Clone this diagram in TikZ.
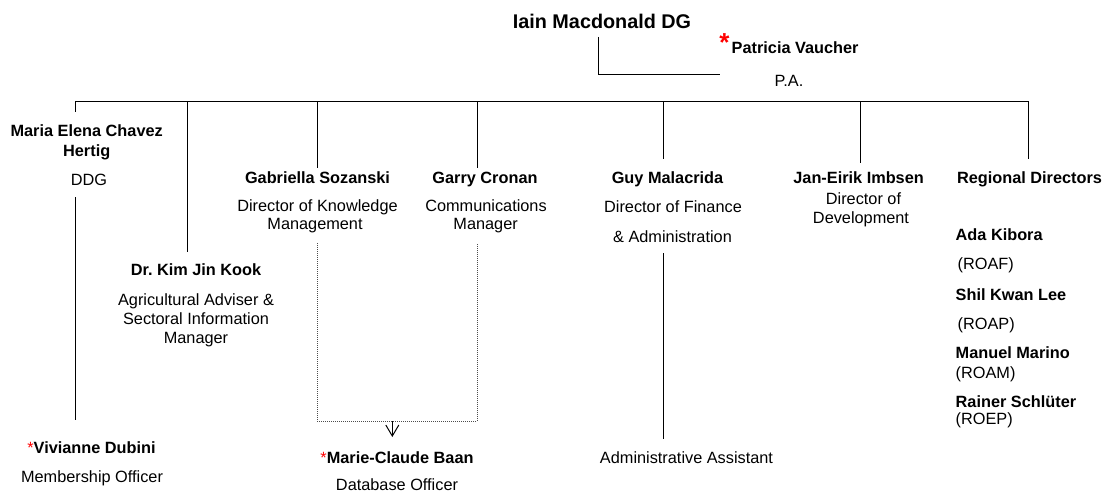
\documentclass[tikz,border=0pt]{standalone}
\usepackage{fontspec}
\setmainfont{Liberation Sans}
\usetikzlibrary{arrows.meta}
\definecolor{astred}{RGB}{255,0,0}
\begin{document}
\begin{tikzpicture}[x=1pt,y=-1pt,
  nm/.style={font=\fontsize{16.3}{19}\selectfont\bfseries, anchor=base, inner sep=0pt},
  rl/.style={font=\fontsize{16.3}{19}\selectfont, anchor=base, inner sep=0pt},
  ln/.style={line width=1pt, black},
  dl/.style={line width=0.8pt, black!70, dash pattern=on 1pt off 1pt}]
\useasboundingbox (0,0) rectangle (1107,492);

% top
\node[nm, font=\fontsize{19.8}{22}\selectfont\bfseries] (dg) at (602,29) {Iain Macdonald DG};
\node[anchor=base, inner sep=0pt, text=astred, font=\fontsize{26}{26}\selectfont\bfseries] (past) at (724.5,51.5) {*};
\node[nm, anchor=base west] (pat) at (731.5,54) {Patricia Vaucher};
\node[rl] (paR) at (789,87) {P.A.};
\coordinate (dgb) at (598,37);
\coordinate (pal) at (720,75);
\draw[ln] (dgb) |- (pal);

% bar
\coordinate (hL) at (75,102);
\coordinate (hR) at (1028.5,102);
\draw[ln] (hL) -- (hR);

% Maria
\node[nm] (ma1) at (86.7,136) {Maria Elena Chavez};
\node[nm] (ma2) at (86.7,156) {Hertig};
\node[rl] (ma3) at (89,185) {DDG};
\draw[ln] (hL) -- ++(0,10);
\coordinate (maT) at (75,197);
\coordinate (maB) at (75,420);
\draw[ln] (maT) -- (maB);
\node[rl] (vi1) at (91.5,453) {\textcolor{astred}{*}\textbf{Vivianne Dubini}};
\node[rl] (vi2) at (92,482) {Membership Officer};

% Kim
\coordinate (kimT) at (187,102);
\draw[ln] (kimT) -- ++(0,150);
\node[nm] (ki1) at (196,275) {Dr.\ Kim Jin Kook};
\node[rl] (ki2) at (196,305) {Agricultural Adviser \&};
\node[rl] (ki3) at (196,324) {Sectoral Information};
\node[rl] (ki4) at (196,343) {Manager};

% Gabriella
\coordinate (gaT) at (317,102);
\draw[ln] (gaT) -- ++(0,66);
\node[nm] (ga1) at (317.5,183) {Gabriella Sozanski};
\node[rl] (ga2) at (317.5,211) {Director of Knowledge};
\node[rl] (ga3) at (315,229.5) {Management};

% Garry
\coordinate (grT) at (477,102);
\draw[ln] (grT) -- ++(0,66);
\node[nm] (gr1) at (485,183) {Garry Cronan};
\node[rl] (gr2) at (486,211) {Communications};
\node[rl] (gr3) at (485.6,229.5) {Manager};

% dotted link to Marie-Claude
\coordinate (d1) at (317,243);
\coordinate (d2) at (317,421);
\coordinate (d3) at (477,421);
\coordinate (d4) at (477,243);
\draw[dl] (d1) -- (d2) -- (d3) -- (d4);
\coordinate (arT) at (392.3,421);
\node[rl] (mc1) at (397,463) {\textcolor{astred}{*}\textbf{Marie-Claude Baan}};
\node[rl] (mc2) at (397,490.5) {Database Officer};
\draw[line width=1pt, -{Straight Barb[length=11pt,width=13pt]}] (arT) -- (392.3,437);

% Guy
\coordinate (guT) at (663,102);
\draw[ln] (guT) -- ++(0,57);
\node[nm] (gu1) at (667.5,183) {Guy Malacrida};
\node[rl] (gu2) at (673,212) {Director of Finance};
\node[rl] (gu3) at (672.5,242) {\& Administration};
\coordinate (guA) at (663,253);
\coordinate (guB) at (663,439);
\draw[ln] (guA) -- (guB);
\node[rl] (adm) at (686.5,463) {Administrative Assistant};

% Jan
\coordinate (jaT) at (860,102);
\draw[ln] (jaT) -- ++(0,61);
\node[nm] (ja1) at (858.6,183) {Jan-Eirik Imbsen};
\node[rl] (ja2) at (863.5,204) {Director of};
\node[rl] (ja3) at (861,223.5) {Development};

% Regional
\draw[ln] (hR) -- ++(0,57);
\node[nm] (rd) at (1029.5,183) {Regional Directors};
\node[nm, anchor=base west] (r1) at (955.5,240) {Ada Kibora};
\node[rl, anchor=base west] (r1b) at (953,269.5) {\ (ROAF)};
\node[nm, anchor=base west] (r2) at (955.5,300) {Shil Kwan Lee};
\node[rl, anchor=base west] (r2b) at (953,329) {\ (ROAP)};
\node[nm, anchor=base west] (r3) at (955.5,358) {Manuel Marino};
\node[rl, anchor=base west] (r3b) at (955.5,378) {(ROAM)};
\node[nm, anchor=base west] (r4) at (955.5,407) {Rainer Schlüter};
\node[rl, anchor=base west] (r4b) at (955.5,424) {(ROEP)};
\end{tikzpicture}
\end{document}
